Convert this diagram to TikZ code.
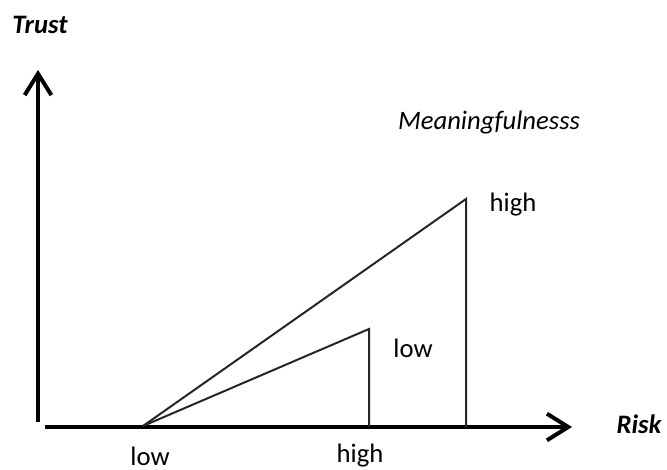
\documentclass[tikz,border=0pt]{standalone}
\usepackage{fontspec}
\setmainfont{Carlito}
\usetikzlibrary{arrows.meta}

\tikzset{
    axis/.style={line width=3pt, -{Straight Barb[length=16pt, width=20pt, line width=3pt]}},
    edge/.style={line width=1.5pt, draw=black!85, line join=miter},
    lab/.style={font=\fontsize{20}{24}\selectfont, inner sep=0.5pt},
    title/.style={font=\fontsize{20}{24}\selectfont\bfseries\itshape, inner sep=0.5pt},
}

\begin{document}
\begin{tikzpicture}[x=0.75pt, y=-0.75pt]
        \useasboundingbox (0,0) rectangle (667,470);

        % 坐标轴
        \coordinate (yfoot) at (38,422);
        \coordinate (ytip) at (38,70);
        \coordinate (xfoot) at (45,427);
        \coordinate (xtip) at (572,427);
        \draw[axis] (yfoot) -- (ytip);
        \draw[axis] (xfoot) -- (xtip);
        \node[title] (trust) at (40,25) {Trust};
        \node[title] (risk) at (639,424) {Risk};

        % 三角形顶点
        \coordinate (apex) at (143,426);
        \coordinate (bigtop) at (466,199);
        \coordinate (bigfoot) at (466,427);
        \coordinate (smalltop) at (369,329);
        \coordinate (smallfoot) at (369,427);

        % 大三角形 / 小三角形
        \draw[edge] (apex) -- (bigtop) -- (bigfoot);
        \draw[edge] (apex) -- (smalltop) -- (smallfoot);

        % 标注
        \node[lab] (risklow) at (150,456) {low};
        \node[lab] (riskhigh) at (360,456) {high};
        \node[lab] (meanhigh) at (513,205) {high};
        \node[lab] (meanlow) at (413,348) {low};
        \node[lab, font=\fontsize{20}{24}\selectfont\itshape, anchor=east] (meaning) at (581,123) {Meaningfulnesss};
    \end{tikzpicture}
\end{document}
